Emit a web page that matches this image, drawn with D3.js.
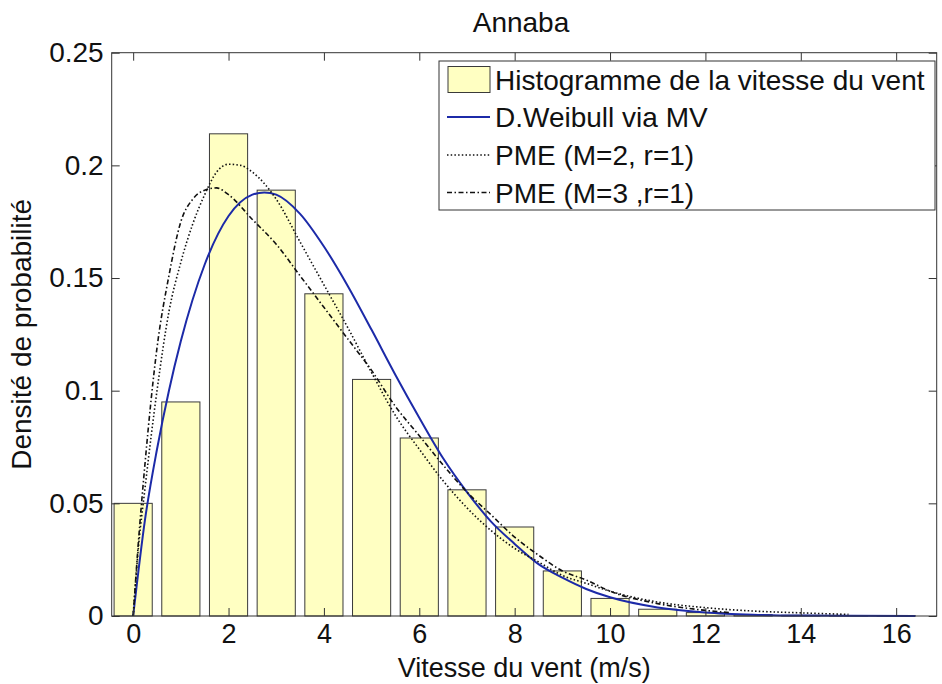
<!DOCTYPE html>
<html>
<head>
<meta charset="utf-8">
<script src="https://cdn.jsdelivr.net/npm/d3@7"></script>
<style>
  body { margin: 0; background: #fff; }
  svg text { font-family: "Liberation Sans", Arial, sans-serif; fill: #111; }
</style>
</head>
<body>
<svg width="942" height="684"></svg>
<script>
// histogram bins (centres in m/s) and densities
const binCenters = [0, 1, 2, 3, 4, 5, 6, 7, 8, 9, 10, 11, 12, 13, 14, 15, 16];
const binValues = [0.050, 0.095, 0.214, 0.189, 0.143, 0.105, 0.079, 0.056, 0.0395, 0.020, 0.0078, 0.003, 0.0015, 0.0006, 0.0003, 0.0001, 0.0001];

// Weibull (MV) curve
const weibullX = [0, 0.25, 0.5, 0.75, 1, 1.5, 2, 2.5, 2.75, 3, 3.5, 4, 4.5, 5, 5.5, 6, 6.5, 7, 7.5, 8, 8.5, 9, 9.5, 10, 11, 12, 13, 14, 15, 16.4];
const weibullY = [0, 0.043, 0.074, 0.100, 0.122, 0.156, 0.1775, 0.187, 0.188, 0.187, 0.1785, 0.164, 0.1465, 0.127, 0.107, 0.088, 0.070, 0.055, 0.042, 0.032, 0.023, 0.017, 0.012, 0.0083, 0.0038, 0.0016, 0.0006, 0.0002, 0.0001, 0];

// PME (M=2, r=1)
const pme2X = [0, 0.1, 0.25, 0.5, 0.75, 1, 1.25, 1.5, 1.75, 2, 2.25, 2.5, 3, 3.5, 4, 4.5, 5, 5.5, 6, 6.5, 7, 7.5, 8, 8.5, 9, 9.5, 10, 11, 12, 13, 14, 15];
const pme2Y = [0, 0.028, 0.057, 0.100, 0.135, 0.157, 0.174, 0.187, 0.197, 0.2005, 0.200, 0.197, 0.185, 0.166, 0.147, 0.128, 0.108, 0.089, 0.074, 0.060, 0.048, 0.038, 0.030, 0.024, 0.018, 0.0145, 0.011, 0.0062, 0.0037, 0.0022, 0.0014, 0.0007];

// PME (M=3, r=1)
const pme3X = [0, 0.1, 0.25, 0.5, 0.75, 1, 1.25, 1.5, 1.75, 2, 2.5, 3, 3.5, 4, 4.5, 5, 5.5, 6, 6.5, 7, 7.5, 8, 8.5, 9, 9.5, 10, 11, 12, 12.5];
const pme3Y = [0, 0.030, 0.068, 0.119, 0.151, 0.175, 0.185, 0.189, 0.190, 0.187, 0.176, 0.165, 0.151, 0.137, 0.123, 0.109, 0.093, 0.080, 0.067, 0.055, 0.045, 0.035, 0.027, 0.020, 0.016, 0.011, 0.0055, 0.0025, 0.0015];

const xTicks = [0, 2, 4, 6, 8, 10, 12, 14, 16];
const yTicks = [0, 0.05, 0.1, 0.15, 0.2, 0.25];
const yTickLabels = ["0", "0.05", "0.1", "0.15", "0.2", "0.25"];

const legendLabels = ["Histogramme de la vitesse du vent", "D.Weibull via MV", "PME (M=2, r=1)", "PME (M=3 ,r=1)"];

const plot = {left: 111.7, right: 936.7, top: 52.7, bottom: 616};

const x = d3.scaleLinear().domain([-0.45, 16.85]).range([plot.left, plot.right]);
const y = d3.scaleLinear().domain([0, 0.25]).range([plot.bottom, plot.top]);

const svg = d3.select("svg");
const fs = 28;

const barColor = "#ffffc2";
const blue = "#1c2aa8";
const lineStyles = [
  {color: blue, dash: null, width: 2},
  {color: "#111", dash: "1.5,2.2", width: 1.6},
  {color: "#111", dash: "5,2.5,1.5,2.5", width: 1.6}
];

// bars
const barW = 0.8;
svg.append("g").selectAll("rect")
    .data(binCenters)
    .enter()
    .append("rect")
    .attr("x", d => x(d - barW / 2))
    .attr("width", x(barW) - x(0))
    .attr("y", (d, i) => y(binValues[i]))
    .attr("height", (d, i) => y(0) - y(binValues[i]))
    .attr("fill", barColor)
    .attr("stroke", "#3a3a3a")
    .attr("stroke-width", 1);

// curves
const line = d3.line()
    .curve(d3.curveMonotoneX)
    .x(d => x(d[0]))
    .y(d => y(d[1]));

const curves = [
  d3.zip(weibullX, weibullY),
  d3.zip(pme2X, pme2Y),
  d3.zip(pme3X, pme3Y)
];

curves.forEach((c, i) => {
  svg.append("path")
      .datum(c)
      .attr("fill", "none")
      .attr("stroke", lineStyles[i].color)
      .attr("stroke-width", lineStyles[i].width)
      .attr("stroke-dasharray", lineStyles[i].dash)
      .attr("d", line);
});

// axes, ticks inward on all four sides
const tick = 8;
const xAxis = d3.axisBottom(x).tickValues(xTicks).tickSize(-tick).tickPadding(8).tickFormat(d3.format("d"));
const yAxis = d3.axisLeft(y).tickValues(yTicks).tickSize(-tick).tickPadding(8).tickFormat((d, i) => yTickLabels[i]);

const gx = svg.append("g").attr("transform", `translate(0,${plot.bottom})`).call(xAxis);
const gy = svg.append("g").attr("transform", `translate(${plot.left},0)`).call(yAxis);
const gxTop = svg.append("g").attr("transform", `translate(0,${plot.top})`)
    .call(d3.axisTop(x).tickValues(xTicks).tickSize(-tick).tickFormat(""));
const gyRight = svg.append("g").attr("transform", `translate(${plot.right},0)`)
    .call(d3.axisRight(y).tickValues(yTicks).tickSize(-tick).tickFormat(""));

[gx, gy, gxTop, gyRight].forEach(g => {
  g.select(".domain").remove();
  g.selectAll("line").attr("stroke", "#333");
  g.selectAll("text").attr("font-size", fs).attr("fill", "#111");
});
gx.selectAll("text").attr("font-size", 27).attr("dy", "0.72em");

svg.append("rect")
    .attr("x", plot.left).attr("y", plot.top)
    .attr("width", plot.right - plot.left).attr("height", plot.bottom - plot.top)
    .attr("fill", "none")
    .attr("stroke", "#333")
    .attr("stroke-width", 1);

// titles
svg.append("text")
    .attr("x", 521)
    .attr("y", 32)
    .attr("text-anchor", "middle")
    .attr("font-size", fs)
    .text("Annaba");

svg.append("text")
    .attr("x", (plot.left + plot.right) / 2)
    .attr("y", 677)
    .attr("text-anchor", "middle")
    .attr("font-size", 27)
    .text("Vitesse du vent (m/s)");

svg.append("text")
    .attr("transform", `translate(31,${(plot.top + plot.bottom) / 2}) rotate(-90)`)
    .attr("text-anchor", "middle")
    .attr("font-size", fs)
    .text("Densité de probabilité");

// legend
const lg = svg.append("g");
lg.append("rect")
    .attr("x", 439).attr("y", 61)
    .attr("width", 496).attr("height", 149)
    .attr("fill", "#fff")
    .attr("stroke", "#333")
    .attr("stroke-width", 1);

const rowY = [79.5, 117, 155, 192.5];

lg.append("rect")
    .attr("x", 448).attr("y", rowY[0] - 13)
    .attr("width", 42).attr("height", 26)
    .attr("fill", barColor)
    .attr("stroke", "#3a3a3a");

lineStyles.forEach((s, i) => {
  lg.append("line")
      .attr("x1", 447).attr("x2", 490)
      .attr("y1", rowY[i + 1]).attr("y2", rowY[i + 1])
      .attr("stroke", s.color)
      .attr("stroke-width", s.width)
      .attr("stroke-dasharray", s.dash);
});

lg.selectAll("text.lab")
    .data(legendLabels)
    .enter()
    .append("text")
    .attr("class", "lab")
    .attr("x", 495)
    .attr("y", (d, i) => rowY[i])
    .attr("dy", "0.36em")
    .attr("font-size", fs)
    .text(d => d);
</script>
</body>
</html>
